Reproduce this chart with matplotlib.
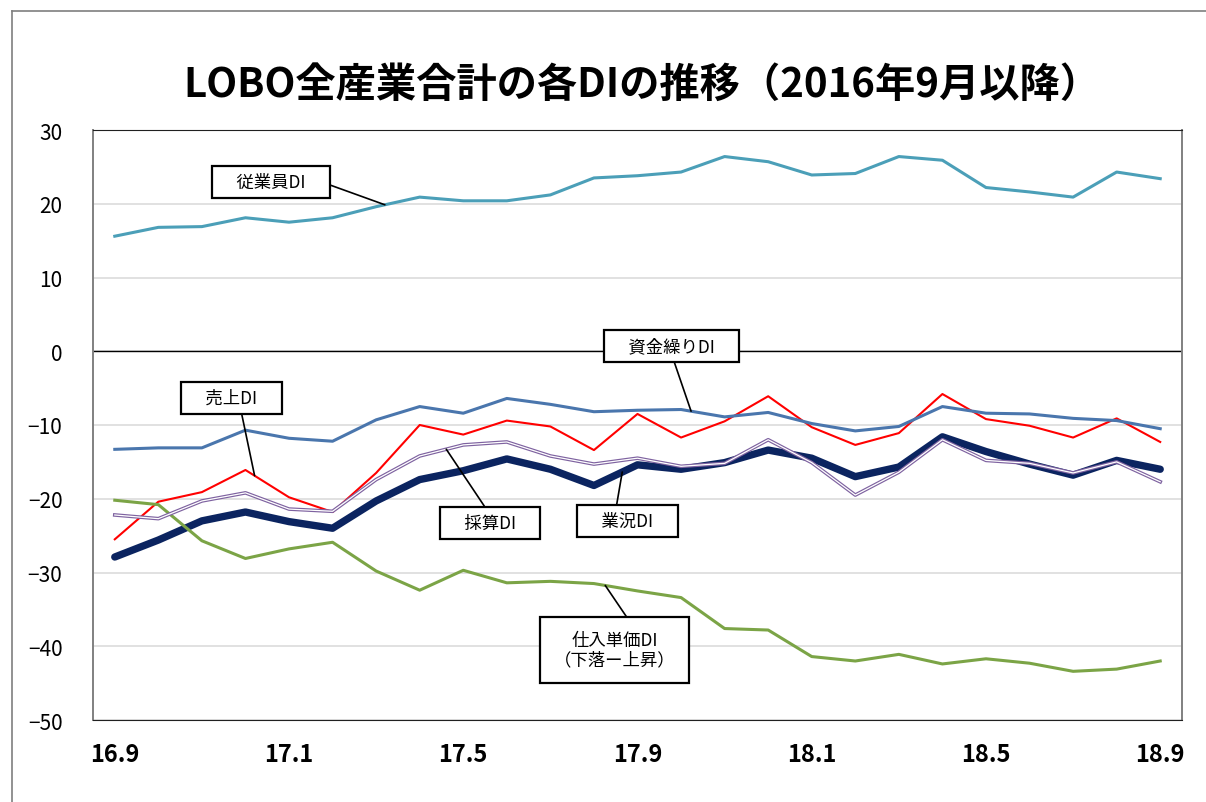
import numpy as np
import matplotlib
matplotlib.use('Agg')
import matplotlib.pyplot as plt
from matplotlib.lines import Line2D

plt.rcParams['font.family'] = ['Noto Sans CJK JP', 'DejaVu Sans']

tick_labels = ['16.9', '17.1', '17.5', '17.9', '18.1', '18.5', '18.9']

employ = [15.6, 16.8, 16.9, 18.1, 17.5, 18.1, 19.6, 20.9, 20.4, 20.4, 21.2, 23.5, 23.8,
          24.3, 26.4, 25.7, 23.9, 24.1, 26.4, 25.9, 22.2, 21.6, 20.9, 24.3, 23.4]
funds = [-13.3, -13.1, -13.1, -10.7, -11.8, -12.2, -9.3, -7.5, -8.4, -6.4, -7.2, -8.2, -8.0,
         -7.9, -8.9, -8.3, -9.8, -10.8, -10.2, -7.5, -8.4, -8.5, -9.1, -9.4, -10.5]
sales = [-25.5, -20.4, -19.1, -16.1, -19.8, -21.8, -16.5, -10.0, -11.3, -9.4, -10.2, -13.4, -8.5,
         -11.7, -9.5, -6.1, -10.3, -12.7, -11.1, -5.8, -9.2, -10.1, -11.7, -9.1, -12.3]
business = [-27.9, -25.6, -23.0, -21.8, -23.1, -24.0, -20.3, -17.4, -16.2, -14.6, -16.0, -18.2, -15.4,
            -16.0, -15.1, -13.4, -14.5, -17.0, -15.7, -11.6, -13.6, -15.3, -16.8, -14.8, -16.0]
profit = [-22.2, -22.7, -20.3, -19.2, -21.4, -21.7, -17.4, -14.2, -12.7, -12.3, -14.2, -15.3, -14.5,
          -15.6, -15.2, -12.0, -15.1, -19.5, -16.4, -12.0, -14.8, -15.2, -16.5, -15.0, -17.7]
price = [-20.2, -20.8, -25.7, -28.1, -26.8, -25.9, -29.8, -32.4, -29.7, -31.4, -31.2, -31.5, -32.5,
         -33.4, -37.6, -37.8, -41.4, -42.0, -41.1, -42.4, -41.7, -42.3, -43.4, -43.1, -42.0]

x = np.arange(len(employ))

fig = plt.figure(figsize=(12.06, 8.03), dpi=100)
ax = fig.add_axes([93/1206, 1 - 721/803, 1089/1206, 590/803])

# outer chart frame (top and left visible)
fig.add_artist(Line2D([12/1206, 1], [1 - 12/803, 1 - 12/803], color='#7f7f7f', lw=1.2))
fig.add_artist(Line2D([12/1206, 12/1206], [0, 1 - 12/803], color='#7f7f7f', lw=1.2))

ax.set_xlim(-0.5, len(x) - 0.5)
ax.set_ylim(-50, 30)
ax.set_yticks(np.arange(-50, 31, 10))
ax.set_xticks(x[::4])
ax.set_xticklabels(tick_labels, fontsize=17, fontweight='bold')
ax.tick_params(axis='x', length=0, pad=16)
ax.tick_params(axis='y', length=0, pad=22, labelsize=15)
ax.grid(axis='y', color='#d9d9d9', lw=1.1)
ax.set_axisbelow(True)
ax.axhline(0, color='black', lw=1.0, zorder=1.5)
for s in ['top', 'bottom']:
    ax.spines[s].set_color('#202020')
for s in ['left', 'right']:
    ax.spines[s].set_color('#808080')
    ax.spines[s].set_linewidth(1.4)

ax.plot(x, business, color='#0b2460', lw=5.3, solid_capstyle='round', zorder=3)
ax.plot(x, sales, color='#ff0000', lw=1.5, zorder=3)
ax.plot(x, funds, color='#4a76ad', lw=2.2, zorder=3)
ax.plot(x, profit, color='#7e62a0', lw=2.6, zorder=4)
ax.plot(x, profit, color='white', lw=0.9, zorder=4)
ax.plot(x, employ, color='#4b9fb8', lw=2.2, zorder=3)
ax.plot(x, price, color='#7ba446', lw=2.2, zorder=3)

box = dict(boxstyle='square,pad=0.5', fc='white', ec='black', lw=1.6)


def label(text, series, xp, tx, ty, rel, pad=0.5, ls=1.2):
    b = dict(box)
    b['boxstyle'] = 'square,pad=%s' % pad
    ax.annotate(text, xy=(xp, np.interp(xp, x, series)), xytext=(tx, ty),
                ha='center', va='center', fontsize=12.5, bbox=b, linespacing=ls,
                arrowprops=dict(arrowstyle='-', color='black', lw=1.2, relpos=rel,
                                shrinkA=0, shrinkB=0), zorder=6)


label('\u3000従業員DI\u3000', employ, 6.2, 3.58, 22.9, (1, 0.5), pad=0.4)
label('\u3000資金繰りDI\u3000', funds, 13.23, 12.79, 0.68, (0.5, 0), pad=0.4)
label('\u3000売上DI\u3000', sales, 3.21, 2.68, -6.3, (0.6, 0), pad=0.4)
label('\u3000採算DI\u3000', profit, 7.61, 8.62, -23.25, (0.49, 1), pad=0.4)
label('\u3000業況DI\u3000', business, 11.65, 11.77, -23.05, (0.36, 1), pad=0.4)
label('仕入単価DI\n（下落ー上昇）', price, 11.26, 11.47, -40.5, (0.68, 1), pad=0.8, ls=1.1)

fig.text(642/1206, 1 - 85/803, 'LOBO全産業合計の各DIの推移（2016年9月以降）',
         ha='center', va='center', fontsize=29, fontweight='bold')

fig.savefig('out.png', dpi=100)
